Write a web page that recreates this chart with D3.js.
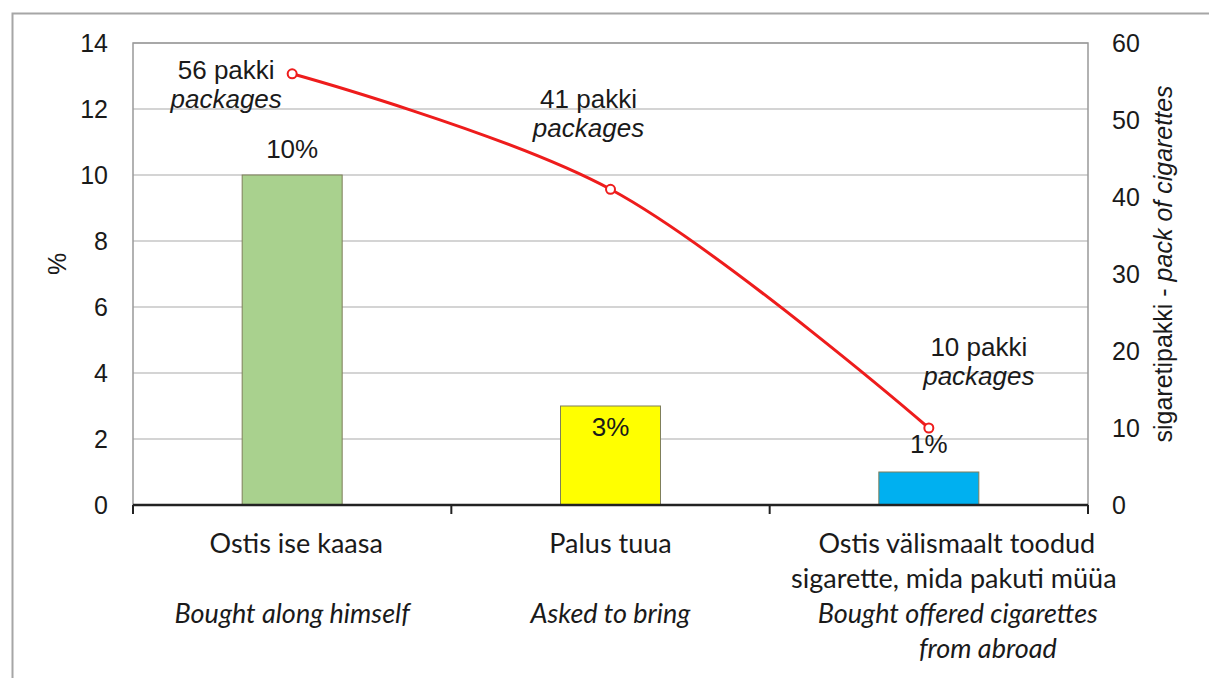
<!DOCTYPE html>
<html>
<head>
<meta charset="utf-8">
<script src="https://cdn.jsdelivr.net/npm/d3@7"></script>
<style>
  body { margin: 0; background: #fff; }
  svg text { font-family: "Liberation Sans", Arial, sans-serif; fill: #1a1a1a; }
</style>
</head>
<body>
<div id="chart"></div>
<script>
// data
const categories = ["Ostis ise kaasa", "Palus tuua", "Ostis välismaalt toodud"];
const labelsEt = [["Ostis ise kaasa"], ["Palus tuua"], ["Ostis välismaalt toodud", "sigarette, mida pakuti müüa"]];
const labelsEn = [["Bought along himself"], ["Asked to bring"], ["Bought offered cigarettes", "from abroad"]];
const percentValues = [10, 3, 1];
const barColors = ["#a9d18e", "#ffff00", "#00b0f0"];
const packValues = [56, 41, 10];
const percentTicks = [0, 2, 4, 6, 8, 10, 12, 14];
const packTicks = [0, 10, 20, 30, 40, 50, 60];

const W = 1209, H = 678;
const margin = { top: 43, right: 121, bottom: 173, left: 133 };
const width = W - margin.left - margin.right;
const height = H - margin.top - margin.bottom;

const svg = d3.select("#chart").append("svg")
    .attr("width", W)
    .attr("height", H);

// outer frame
svg.append("rect")
    .attr("x", 12.5).attr("y", 13.5)
    .attr("width", W + 20).attr("height", H + 20)
    .attr("fill", "none").attr("stroke", "#a6a6a6").attr("stroke-width", 2);

const g = svg.append("g").attr("transform", `translate(${margin.left},${margin.top})`);

const x = d3.scaleBand().domain(categories).range([0, width]);
const yL = d3.scaleLinear().domain([0, 14]).range([height, 0]);
const yR = d3.scaleLinear().domain([0, 60]).range([height, 0]);

// grid
g.selectAll(".grid").data(percentTicks.filter(d => d > 0)).enter().append("line")
    .attr("x1", 0).attr("x2", width)
    .attr("y1", d => yL(d)).attr("y2", d => yL(d))
    .attr("stroke", "#d4d4d4").attr("stroke-width", 2);

// plot border (left, right, top)
g.append("path")
    .attr("d", `M0,${height}V0H${width}V${height}`)
    .attr("fill", "none").attr("stroke", "#999").attr("stroke-width", 1.5);

// bars
const barW = 100;
g.selectAll(".bar").data(percentValues).enter().append("rect")
    .attr("x", (d, i) => x(categories[i]) + x.bandwidth() / 2 - barW / 2)
    .attr("width", barW)
    .attr("y", d => yL(d))
    .attr("height", d => height - yL(d))
    .attr("fill", (d, i) => barColors[i])
    .attr("stroke", "#7f7f5a").attr("stroke-width", 1);

// left axis
const axL = g.append("g").call(d3.axisLeft(yL).tickValues(percentTicks).tickSize(0).tickPadding(25));
axL.select(".domain").remove();
axL.selectAll("text").style("font-size", "25px").style("font-family", "Liberation Sans, Arial, sans-serif");

// right axis
const axR = g.append("g").attr("transform", `translate(${width},0)`)
    .call(d3.axisRight(yR).tickValues(packTicks).tickSize(0).tickPadding(24));
axR.select(".domain").remove();
axR.selectAll("text").style("font-size", "25px").style("font-family", "Liberation Sans, Arial, sans-serif");

// bottom axis
const bandEdges = [0, width / 3, 2 * width / 3, width];
g.append("line").attr("x1", 0).attr("x2", width).attr("y1", height).attr("y2", height)
    .attr("stroke", "#222").attr("stroke-width", 2.5);
g.selectAll(".xtick").data(bandEdges).enter().append("line")
    .attr("x1", d => d).attr("x2", d => d)
    .attr("y1", height).attr("y2", height + 9)
    .attr("stroke", "#222").attr("stroke-width", 2);

// axis titles
svg.append("text")
    .attr("transform", "translate(66,264) rotate(-90)")
    .attr("text-anchor", "middle")
    .style("font-size", "25px")
    .text("%");

const rt = svg.append("text")
    .attr("transform", "translate(1172,264) rotate(-90)")
    .attr("text-anchor", "middle")
    .style("font-size", "25px");
rt.append("tspan").text("sigaretipakki - ");
rt.append("tspan").style("font-style", "italic").text("pack of cigarettes");

// line (right axis)
const cx = i => x(categories[i]) + x.bandwidth() / 2;
const line = d3.line()
    .x((d, i) => cx(i))
    .y(d => yR(d))
    .curve(d3.curveCatmullRom.alpha(0.5));

g.append("path").datum(packValues)
    .attr("d", line)
    .attr("fill", "none").attr("stroke", "#ee1c1c").attr("stroke-width", 3);

g.selectAll(".pt").data(packValues).enter().append("circle")
    .attr("cx", (d, i) => cx(i))
    .attr("cy", d => yR(d))
    .attr("r", 4.5)
    .attr("fill", "#fff").attr("stroke", "#ee1c1c").attr("stroke-width", 2);

// line labels
const packLabelOffset = [[-66, 5], [-22, -81], [50, -72]];
packValues.forEach((v, i) => {
    const lx = cx(i) + packLabelOffset[i][0];
    const ly = yR(v) + packLabelOffset[i][1];
    g.append("text").attr("x", lx).attr("y", ly).attr("text-anchor", "middle")
        .style("font-size", "26px").text(v + " pakki");
    g.append("text").attr("x", lx).attr("y", ly + 29).attr("text-anchor", "middle")
        .style("font-size", "26px").style("font-style", "italic").text("packages");
});

// bar labels
const barLabelDy = [-17, 30, -19];
percentValues.forEach((v, i) => {
    g.append("text")
        .attr("x", cx(i))
        .attr("y", yL(v) + barLabelDy[i])
        .attr("text-anchor", "middle")
        .style("font-size", "26px")
        .text(v + "%");
});

// category labels
const catFont = "Lato, 'Open Sans', sans-serif";
const etShift = [[4], [0], [28, 25]];
labelsEt.forEach((lines, i) => {
    lines.forEach((t, j) => {
        g.append("text")
            .attr("x", cx(i) + etShift[i][j])
            .attr("y", height + 48 + j * 35)
            .attr("text-anchor", "middle")
            .style("font-family", catFont)
            .style("font-size", "27px")
            .text(t);
    });
});
const enShift = [[0], [0], [29, 59]];
labelsEn.forEach((lines, i) => {
    lines.forEach((t, j) => {
        g.append("text")
            .attr("x", cx(i) + enShift[i][j])
            .attr("y", height + 118 + j * 35)
            .attr("text-anchor", "middle")
            .style("font-family", catFont)
            .style("font-style", "italic")
            .style("font-size", "27px")
            .text(t);
    });
});
</script>
</body>
</html>
